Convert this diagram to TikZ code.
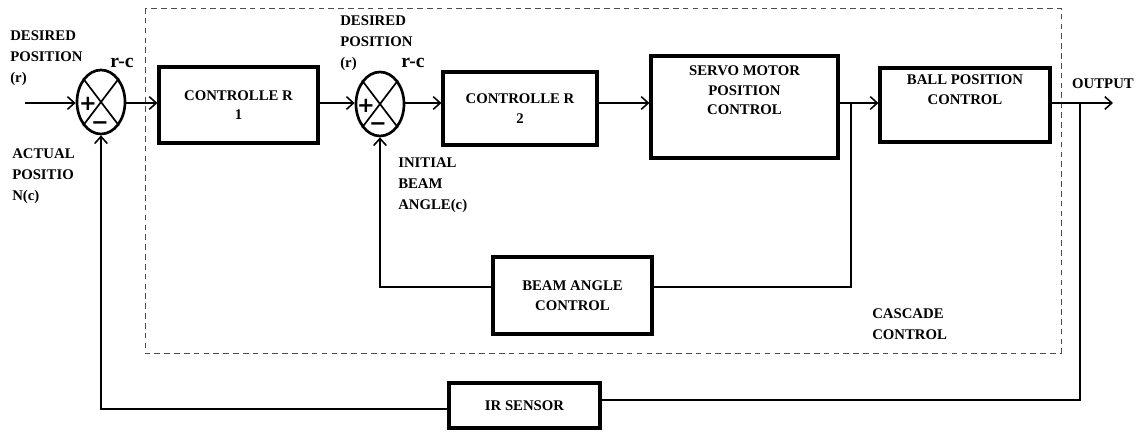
\documentclass[tikz,border=0pt]{standalone}
\usepackage{fontspec}
\setmainfont{Liberation Serif}
\newfontfamily\signfont{DejaVu Sans}
\usetikzlibrary{shapes.geometric,arrows.meta,positioning}
\tikzset{
  blockbox/.style={draw,line width=2.2pt,inner sep=0pt,font=\bfseries\fontsize{10.5}{14}\selectfont,align=center},
  sumnode/.style={draw,ellipse,line width=1.9pt,minimum width=1.2cm,minimum height=1.6cm,inner sep=0pt},
  signtext/.style={font=\signfont\bfseries\fontsize{15}{15}\selectfont,inner sep=0pt},
  labeltext/.style={font=\bfseries\fontsize{10.5}{15}\selectfont,align=left,inner sep=0pt},
  errtext/.style={font=\bfseries\fontsize{14}{14}\selectfont,inner sep=0pt},
  wire/.style={line width=1.1pt},
  flow/.style={wire,-{Straight Barb[length=5pt,width=9pt,line width=1.1pt]}},
}
\begin{document}
\begin{tikzpicture}[x=0.025cm,y=-0.025cm]
    \useasboundingbox (0,0) rectangle (1139,432);
    % cascade frame
    \draw[dashed,dash pattern=on 4pt off 3pt,line width=0.6pt,black!70](145,8)rectangle(1061,353);
    % summing points
    \node[sumnode] (sum1) at (101,102) {};
    \draw[line width=1.2pt](sum1.north west)--(sum1.south east);
    \draw[line width=1.2pt](sum1.north east)--(sum1.south west);
    \node[signtext] (plus1) at (88,104) {+};
    \node[signtext] (minus1) at (100,126) {−};
    \node[sumnode] (sum2) at (380,104) {};
    \draw[line width=1.2pt](sum2.north west)--(sum2.south east);
    \draw[line width=1.2pt](sum2.north east)--(sum2.south west);
    \node[signtext] (plus2) at (366,106) {+};
    \node[signtext] (minus2) at (378,127) {−};
    % blocks
    \node[blockbox,minimum width=3.975cm,minimum height=1.9cm] (ctrl1) at (238.5,105) {CONTROLLE R\\1};
    \node[blockbox,minimum width=3.85cm,minimum height=1.825cm] (ctrl2) at (520,108.5) {CONTROLLE R\\2};
    \node[blockbox,minimum width=4.675cm,minimum height=2.55cm] (servo) at (744.5,107) {};
    \node[blockbox,draw=none,anchor=north] (servotext) at (744.5,64) {SERVO MOTOR\\POSITION\\CONTROL};
    \node[blockbox,minimum width=4.25cm,minimum height=1.85cm] (ball) at (965,105) {};
    \node[blockbox,draw=none,anchor=north] (balltext) at (965,73) {BALL POSITION\\CONTROL};
    \node[blockbox,minimum width=3.975cm,minimum height=1.925cm] (beam) at (572.5,295.5) {BEAM ANGLE\\CONTROL};
    \node[blockbox,minimum width=3.775cm,minimum height=1.125cm] (irsensor) at (524.5,405.5) {IR SENSOR};
    % labels
    \node[labeltext,anchor=north west] (desired1) at (10,30) {DESIRED\\POSITION\\(r)};
    \node[errtext] (err1) at (122,63) {r-c};
    \node[labeltext,anchor=north west] (actual) at (12,148) {ACTUAL\\POSITIO\\N(c)};
    \node[labeltext,anchor=north west] (desired2) at (340,15) {DESIRED\\POSITION\\(r)};
    \node[errtext] (err2) at (413,63) {r-c};
    \node[labeltext,anchor=north west] (initial) at (398,157) {INITIAL\\BEAM\\ANGLE(c)};
    \node[labeltext] (outtext) at (1103,84) {OUTPUT};
    \node[labeltext,anchor=north west] (cascade) at (872,308) {CASCADE\\CONTROL};
    % signal lines
    \coordinate (axis) at (0,103);
    \coordinate (beamaxis) at (0,287);
    \coordinate (irright) at (0,400);
    \coordinate (irleft) at (0,409);
    \coordinate (refin) at (25,103);
    \coordinate (tapbeam) at (851,103);
    \coordinate (tapir) at (1080,103);
    \coordinate (output) at (1113,103);
    \draw[flow](refin)--(sum1.west |- axis);
    \draw[flow](sum1.east |- axis)--(ctrl1.west |- axis);
    \draw[flow](ctrl1.east |- axis)--(sum2.west |- axis);
    \draw[flow](sum2.east |- axis)--(ctrl2.west |- axis);
    \draw[flow](ctrl2.east |- axis)--(servo.west |- axis);
    \draw[flow](servo.east |- axis)--(ball.west |- axis);
    \draw[flow](ball.east |- axis)--(output);
    \draw[wire](tapbeam)|-(beam.east |- beamaxis);
    \draw[flow](beam.west |- beamaxis)-|(sum2.south);
    \draw[wire](tapir)|-(irsensor.east |- irright);
    \draw[flow](irsensor.west |- irleft)-|(sum1.south);
\end{tikzpicture}
\end{document}
